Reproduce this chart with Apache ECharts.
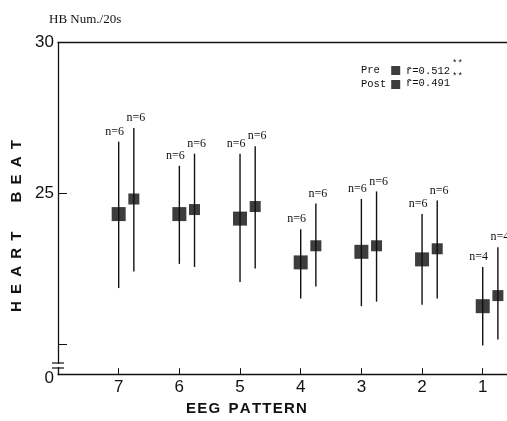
<!DOCTYPE html>
<html>
<head>
<meta charset="utf-8">
<script src="https://cdn.jsdelivr.net/npm/echarts@6/dist/echarts.min.js"></script>
<style>
  html, body { margin: 0; padding: 0; background: #fff; }
  #chart { width: 507px; height: 421px; }
</style>
</head>
<body>
<div id="chart"></div>
<script>
// EEG pattern categories, right to left on the x axis
var patterns = [7, 6, 5, 4, 3, 2, 1]
// heart beats per 20 s
var preMean = [24.3, 24.3, 24.15, 22.7, 23.05, 22.8, 21.25]
var preHigh = [26.7, 25.9, 26.3, 23.8, 24.8, 24.3, 22.55]
var preLow = [21.85, 22.65, 22.05, 21.5, 21.25, 21.3, 19.95]
var postMean = [24.8, 24.45, 24.55, 23.25, 23.25, 23.15, 21.6]
var postHigh = [27.15, 26.3, 26.55, 24.65, 25.05, 24.75, 23.2]
var postLow = [22.4, 22.55, 22.5, 21.9, 21.4, 21.5, 20.15]
var preN = [6, 6, 6, 6, 6, 6, 4]
var postN = [6, 6, 6, 6, 6, 6, 4]
var yTickLabels = [0, 25, 30]
var yTicks = [0, 20, 25, 30]
var rPre = '0.512'
var rPost = '0.491'

var POST_SHIFT = 0.25

function points (mean, shift) {
  return patterns.map(function (p, i) { return [p - shift, mean[i]] })
}
function ranges (high, low, n, shift) {
  return patterns.map(function (p, i) { return [p - shift, high[i], low[i], n[i]] })
}

function whisker (textDx) {
  return function (params, api) {
    var top = api.coord([api.value(0), api.value(1)])
    var bottom = api.coord([api.value(0), api.value(2)])
    return {
      type: 'group',
      children: [
        {
          type: 'line',
          shape: { x1: top[0], y1: top[1], x2: bottom[0], y2: bottom[1] },
          style: { stroke: '#111', lineWidth: 1.4 }
        },
        {
          type: 'text',
          x: top[0] + textDx,
          y: top[1] - 4,
          style: {
            text: 'n=' + api.value(3),
            fill: '#111',
            font: '12px "Liberation Serif"',
            align: 'center',
            verticalAlign: 'bottom'
          }
        }
      ]
    }
  }
}

// spaced-out capitals as in the original typesetting
var sp = ' \u2009'
var yName = ['H', 'E', 'A', 'R', 'T'].join(sp) + '       ' + ['B', 'E', 'A', 'T'].join(sp)
var hs = '\u200a'
var xName = ['E', 'E', 'G'].join(hs) + '  ' + ['P', 'A', 'T', 'T', 'E', 'R', 'N'].join(hs)

var myChart = echarts.init(document.getElementById('chart'))
var option = {
  animation: false,
  backgroundColor: '#fff',
  title: {
    text: 'HB Num./20s',
    left: 44,
    top: 8,
    textStyle: { fontFamily: 'Liberation Serif', fontSize: 13, fontWeight: 'normal', color: '#111' }
  },
  legend: {
    data: ['Pre', 'Post'],
    orient: 'vertical',
    left: 361,
    top: 65,
    padding: 0,
    align: 'right',
    icon: 'rect',
    itemWidth: 9,
    itemHeight: 9,
    itemGap: 3,
    formatter: function (name) { return name === 'Pre' ? 'Pre ' : name },
    textStyle: { fontFamily: 'Liberation Mono', fontSize: 10.5, color: '#111' }
  },
  grid: { left: 58, right: 0, top: 42, bottom: 46 },
  xAxis: [
    {
      type: 'value',
      inverse: true,
      min: 0.6,
      max: 8,
      axisLine: { lineStyle: { color: '#111', width: 1.3 } },
      axisTick: { inside: true, length: 6, customValues: patterns, lineStyle: { color: '#111' } },
      axisLabel: { customValues: patterns, color: '#111', fontSize: 17, margin: 5, fontFamily: 'Liberation Sans' },
      splitLine: { show: false },
      name: xName,
      nameLocation: 'middle',
      nameGap: 23,
      nameTextStyle: { fontSize: 15, fontWeight: 'bold', color: '#111', fontFamily: 'Liberation Sans', padding: [0, 72, 0, 0] }
    },
    {
      type: 'value',
      position: 'top',
      inverse: true,
      min: 0.6,
      max: 8,
      axisLine: { lineStyle: { color: '#111', width: 1.3 } },
      axisTick: { show: false },
      axisLabel: { show: false },
      splitLine: { show: false }
    }
  ],
  yAxis: {
    type: 'value',
    min: 0,
    max: 30,
    interval: 5,
    breaks: [{ start: 0, end: 19, gap: 0 }],
    breakArea: { show: false },
    axisLine: { show: true, lineStyle: { color: '#111', width: 1.3 } },
    axisTick: { show: true, inside: true, length: 9, customValues: yTicks, lineStyle: { color: '#111' } },
    axisLabel: {
      color: '#111',
      fontSize: 17,
      margin: 4,
      fontFamily: 'Liberation Sans',
      formatter: function (v) { return yTickLabels.indexOf(v) >= 0 ? String(v) : '' }
    },
    splitLine: { show: false },
    name: yName,
    nameLocation: 'middle',
    nameGap: 32,
    nameTextStyle: { fontSize: 15, fontWeight: 'bold', color: '#111', fontFamily: 'Liberation Sans', padding: [0, 36, 0, 0] }
  },
  graphic: [
    { type: 'text', left: 406, top: 66, style: { text: 'r\u0304=' + rPre, font: '10.5px "Liberation Mono"', fill: '#111' } },
    { type: 'text', left: 406, top: 78, style: { text: 'r\u0304=' + rPost, font: '10.5px "Liberation Mono"', fill: '#111' } },
    { type: 'text', left: 452, top: 59, style: { text: '**', font: '9px "Liberation Mono"', fill: '#111' } },
    { type: 'text', left: 452, top: 72, style: { text: '**', font: '9px "Liberation Mono"', fill: '#111' } },
    // axis break marks
    { type: 'rect', shape: { x: 55, y: 364, width: 6, height: 3 }, style: { fill: '#fff' }, z: 100 },
    { type: 'line', shape: { x1: 52, y1: 363, x2: 64, y2: 363 }, style: { stroke: '#111', lineWidth: 1.2 }, z: 101 },
    { type: 'line', shape: { x1: 52, y1: 368, x2: 64, y2: 368 }, style: { stroke: '#111', lineWidth: 1.2 }, z: 101 }
  ],
  series: [
    {
      name: 'Pre range',
      type: 'custom',
      renderItem: whisker(-4),
      encode: { x: 0, y: [1, 2] },
      data: ranges(preHigh, preLow, preN, 0),
      z: 1
    },
    {
      name: 'Post range',
      type: 'custom',
      renderItem: whisker(2),
      encode: { x: 0, y: [1, 2] },
      data: ranges(postHigh, postLow, postN, POST_SHIFT),
      z: 1
    },
    {
      name: 'Pre',
      type: 'scatter',
      symbol: 'rect',
      symbolSize: 14,
      itemStyle: { color: '#0d0d0d' },
      data: points(preMean, 0),
      z: 3
    },
    {
      name: 'Post',
      type: 'scatter',
      symbol: 'rect',
      symbolSize: 11,
      itemStyle: { color: '#0d0d0d' },
      data: points(postMean, POST_SHIFT),
      z: 3
    }
  ]
}
myChart.setOption(option)
</script>
</body>
</html>
